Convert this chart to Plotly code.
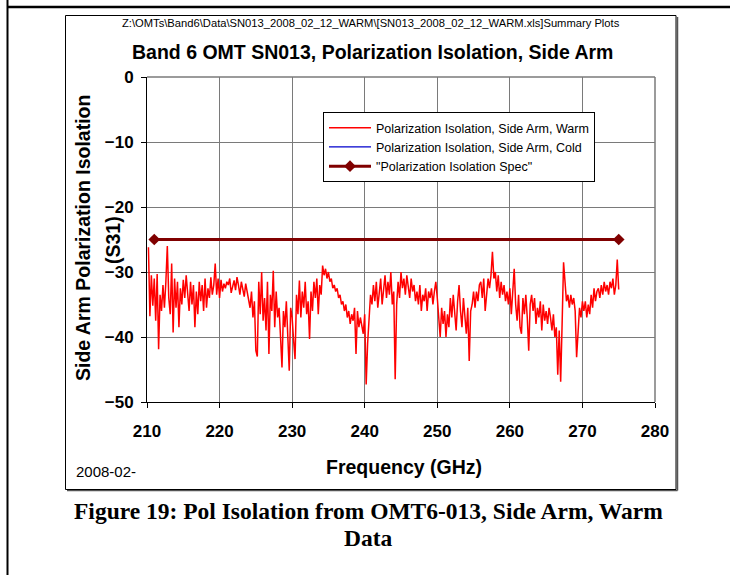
import numpy as np
import plotly.graph_objects as go

# ---------------- data ----------------
freq_start, freq_stop = 210.2, 275.0
warm_isolation = [
    -26.2, -36.8, -30.5, -35.2, -31.0,
    -37.5, -30.3, -41.9, -33.5, -36.0,
    -32.0, -35.5, -31.5, -26.0, -34.0,
    -36.5, -28.7, -39.3, -31.0, -35.5,
    -31.5, -38.5, -32.5, -35.0, -31.2,
    -34.0, -30.5, -33.5, -36.0, -31.5,
    -35.0, -32.0, -38.5, -33.0, -36.5,
    -31.5, -34.5, -32.0, -36.0, -31.0,
    -35.5, -32.5, -34.0, -30.8, -33.5,
    -32.0, -28.7, -33.5, -31.0, -34.0,
    -31.2, -33.0, -31.8, -32.5, -31.5,
    -32.0, -31.0, -33.2, -32.0, -31.3,
    -32.8, -30.8, -32.0, -33.5, -31.5,
    -32.5, -33.8, -31.8, -33.0, -34.5,
    -35.5, -33.0, -37.0, -34.5, -42.1,
    -43.0, -31.5, -36.5, -30.0, -37.5,
    -34.0, -39.0, -31.5, -42.6, -33.5,
    -36.0, -29.8, -38.5, -33.0, -37.0,
    -35.5, -40.0, -44.7, -36.0, -38.5,
    -34.5, -41.0, -45.2, -35.5, -37.0,
    -40.5, -43.4, -33.5, -36.5, -31.3,
    -37.0, -33.0, -35.5, -31.5, -36.5,
    -34.5, -40.3, -33.0, -36.0, -31.5,
    -34.0, -31.0, -36.5, -32.0, -33.5,
    -29.0, -30.5, -29.5, -31.0, -30.0,
    -31.5, -31.0, -32.5, -32.0, -33.0,
    -32.5, -34.0, -33.5, -35.0, -34.5,
    -36.0, -35.0, -37.0, -36.0, -38.0,
    -36.5, -37.5, -35.5, -42.6, -36.0,
    -38.5, -37.0, -38.0, -39.5, -36.5,
    -47.3, -41.0, -36.5, -33.5, -35.0,
    -32.0, -34.5, -31.5, -35.5, -33.0,
    -31.0, -35.0, -32.5, -30.5, -34.0,
    -31.5, -33.5, -30.0, -35.0, -33.0,
    -46.5, -35.0, -31.5, -34.0, -30.0,
    -32.5, -31.0, -33.5, -30.5, -32.0,
    -34.0, -31.0, -33.0, -32.0, -34.5,
    -33.0, -35.0, -32.0, -36.0, -33.5,
    -34.5, -32.5, -36.0, -33.0, -34.0,
    -32.5, -35.0, -33.0, -31.5, -34.0,
    -37.5, -40.0, -35.5, -38.0, -36.0,
    -40.0, -36.5, -38.5, -34.0, -37.0,
    -33.5, -36.5, -39.0, -34.5, -32.0,
    -36.0, -38.5, -34.0, -37.5, -39.5,
    -35.5, -43.7, -36.0, -35.0, -33.0,
    -35.5, -33.0, -34.5, -32.0, -31.5,
    -34.0, -31.0, -36.0, -33.5, -31.0,
    -32.5, -30.5, -26.9, -31.0, -30.0,
    -33.0, -30.5, -34.0, -31.5, -33.5,
    -32.0, -34.5, -33.0, -35.0, -32.5,
    -36.5, -33.0, -29.5, -35.0, -37.5,
    -33.5, -38.5, -39.5, -34.0, -36.5,
    -33.5, -37.0, -42.1, -35.0, -33.5,
    -36.0, -34.0, -38.0, -35.5, -37.0,
    -34.5, -39.0, -35.0, -37.5, -36.0,
    -38.0, -35.5, -37.0, -39.0, -36.5,
    -40.0, -38.5, -45.8, -39.0, -46.9,
    -38.0, -28.5, -31.5, -34.5, -33.5,
    -35.5, -33.5, -35.0, -34.0, -36.0,
    -43.1, -38.0, -35.5, -37.0, -34.5,
    -36.0, -34.5, -37.0, -35.0, -36.5,
    -33.5, -35.5, -32.5, -34.5, -33.0,
    -32.5, -34.0, -32.0, -33.5, -31.5,
    -33.0, -32.0, -33.5, -31.5, -32.5,
    -31.0, -33.5, -32.0, -28.1, -32.7,
]
warm_freq = np.linspace(freq_start, freq_stop, len(warm_isolation))
cold_freq = [None]          # no cold data plotted (legend entry only)
cold_isolation = [None]
spec_freq = [211, 275]
spec_isolation = [-25, -25]

x_ticks = [210, 220, 230, 240, 250, 260, 270, 280]
y_ticks = [0, -10, -20, -30, -40, -50]

header_text = "Z:\\OMTs\\Band6\\Data\\SN013_2008_02_12_WARM\\[SN013_2008_02_12_WARM.xls]Summary Plots"
title_text = "Band 6 OMT SN013, Polarization Isolation, Side Arm"
ytitle_1 = "Side Arm Polarization Isolation"
ytitle_2 = "(S31)"
xtitle = "Frequency (GHz)"
date_text = "2008-02-"
caption_1 = "Figure 19: Pol Isolation from OMT6-013, Side Arm, Warm"
caption_2 = "Data"

# ---------------- layout geometry ----------------
FW, FH = 730, 575
L, R, T, B = 147, 655, 77, 402
PW, PH = R - L, B - T


def px(x):
    return (x - L) / PW


def py(y):
    return 1 - (y - T) / PH


SANS = "Liberation Sans, Arial, sans-serif"
SERIF = "Liberation Serif, Times New Roman, serif"

fig = go.Figure()
fig.add_trace(go.Scatter(
    x=warm_freq, y=warm_isolation, mode="lines",
    name="Polarization Isolation, Side Arm, Warm",
    line=dict(color="#ff0000", width=1.5)))
fig.add_trace(go.Scatter(
    x=cold_freq, y=cold_isolation, mode="lines",
    name="Polarization Isolation, Side Arm, Cold",
    line=dict(color="#0000cc", width=1.2), showlegend=True))
fig.add_trace(go.Scatter(
    x=spec_freq, y=spec_isolation, mode="lines+markers",
    name='"Polarization Isolation Spec"',
    line=dict(color="#800000", width=3),
    marker=dict(symbol="diamond", size=9, color="#800000")))

axis_common = dict(
    showgrid=True, gridcolor="#7a7a7a", gridwidth=1,
    zeroline=False, showline=True, linecolor="black", linewidth=1,
    ticks="outside", ticklen=5, tickcolor="black",
    tickfont=dict(family=SANS, size=17, color="black", weight="bold"),
)
fig.update_xaxes(range=[210, 280], tickvals=x_ticks, ticklabelstandoff=9, **axis_common)
fig.update_yaxes(range=[-50, 0], tickvals=y_ticks, ticklabelstandoff=4, **axis_common)

shapes = [
    # chart box shadow + border
    dict(type="line", xref="paper", yref="paper", x0=px(677.5), x1=px(677.5), y0=py(17), y1=py(490.5),
         line=dict(color="#555", width=1.5), layer="below"),
    dict(type="line", xref="paper", yref="paper", x0=px(67), x1=px(677.5), y0=py(490.5), y1=py(490.5),
         line=dict(color="#555", width=1.5), layer="below"),
    dict(type="rect", xref="paper", yref="paper", x0=px(65.5), x1=px(676), y0=py(15.5), y1=py(489.5),
         line=dict(color="black", width=1), fillcolor="rgba(0,0,0,0)", layer="below"),
    # plot area top / right border
    dict(type="line", xref="paper", yref="paper", x0=0, x1=1, y0=1, y1=1,
         line=dict(color="#7a7a7a", width=1.5)),
    dict(type="line", xref="paper", yref="paper", x0=1, x1=1, y0=0, y1=1,
         line=dict(color="#7a7a7a", width=1.5)),
    # outer document frame
    dict(type="line", xref="paper", yref="paper", x0=px(7.5), x1=px(7.5), y0=py(0), y1=py(575),
         line=dict(color="black", width=2)),
    dict(type="line", xref="paper", yref="paper", x0=px(7), x1=px(730), y0=py(7), y1=py(7),
         line=dict(color="black", width=2.5)),
]

annotations = [
    dict(text=header_text, x=px(370.5), y=py(23), font=dict(family=SANS, size=11.2, color="black")),
    dict(text=title_text, x=px(372), y=py(52), font=dict(family=SANS, size=19.5, color="black", weight="bold")),
    dict(text=ytitle_1, x=px(83), y=py(238), textangle=-90,
         font=dict(family=SANS, size=19.5, color="black", weight="bold")),
    dict(text=ytitle_2, x=px(113), y=py(240), textangle=-90,
         font=dict(family=SANS, size=19.5, color="black", weight="bold")),
    dict(text=xtitle, x=px(404), y=py(467), font=dict(family=SANS, size=19.5, color="black", weight="bold")),
    dict(text=date_text, x=px(106), y=py(471), font=dict(family=SANS, size=15, color="black")),
    dict(text=caption_1, x=px(368), y=py(511), font=dict(family=SERIF, size=23.5, color="black", weight="bold")),
    dict(text=caption_2, x=px(368), y=py(538), font=dict(family=SERIF, size=23.5, color="black", weight="bold")),
]
for a in annotations:
    a.update(xref="paper", yref="paper", showarrow=False, xanchor="center", yanchor="middle")

fig.update_layout(
    width=FW, height=FH,
    margin=dict(l=L, r=FW - R, t=T, b=FH - B, pad=0),
    paper_bgcolor="white", plot_bgcolor="white",
    showlegend=True,
    legend=dict(x=px(323), y=py(112), xanchor="left", yanchor="top",
                bgcolor="white", bordercolor="black", borderwidth=1,
                font=dict(family=SANS, size=12.5, color="black"),
                itemwidth=42, tracegroupgap=0),
    shapes=shapes,
    annotations=annotations,
)

fig.write_html("out.html")
